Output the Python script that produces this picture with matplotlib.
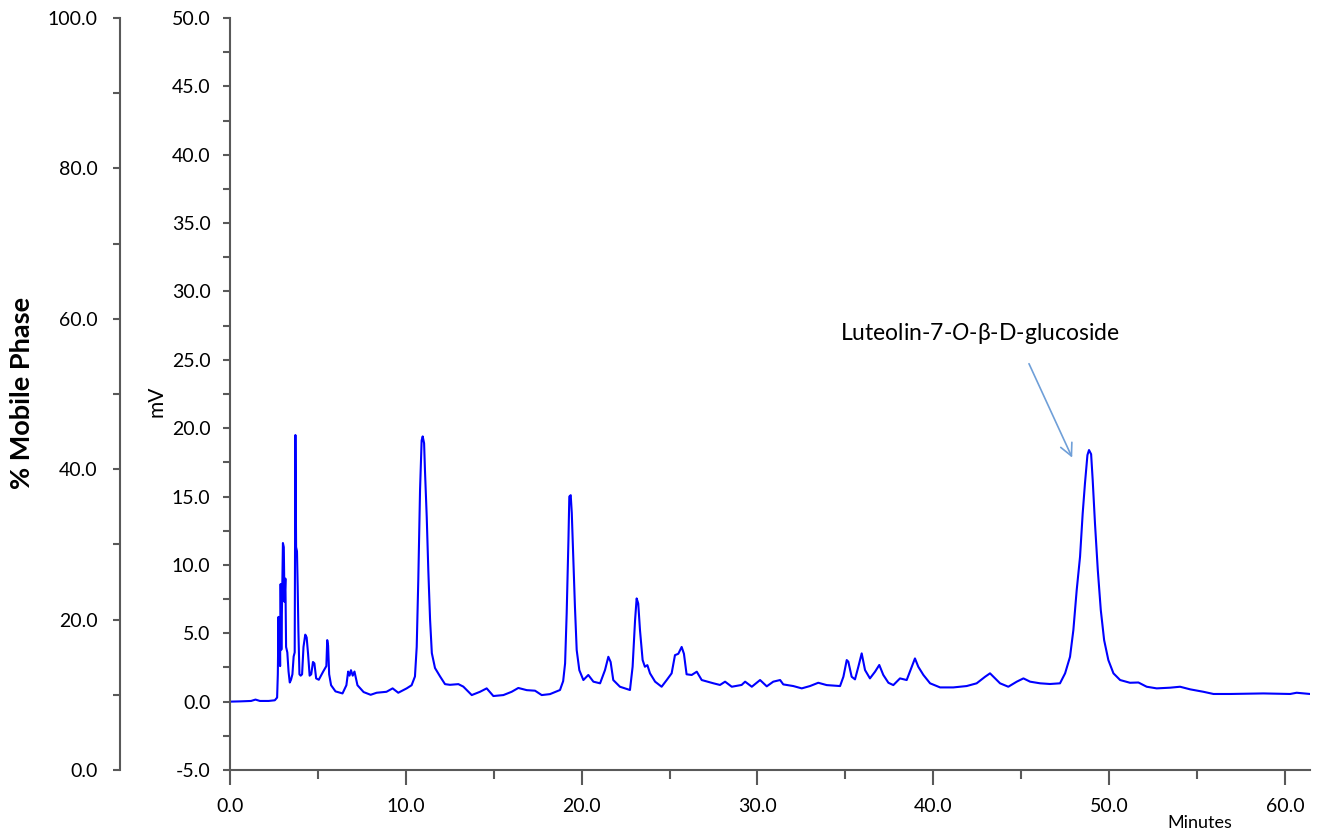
import matplotlib
matplotlib.use("Agg")
import matplotlib.pyplot as plt
from matplotlib import font_manager
from matplotlib.ticker import MultipleLocator, FormatStrFormatter

plt.rcParams['font.family'] = ['Lato', 'DejaVu Sans']

# pick an installed family that really has an italic face for the italic "O"
_italic_family = 'DejaVu Sans'
for fam in ('Lato', 'Open Sans', 'Noto Sans', 'Roboto', 'Inter'):
    if any(f.name == fam and f.style == 'italic' for f in font_manager.fontManager.ttflist):
        _italic_family = fam
        break
plt.rcParams['mathtext.fontset'] = 'custom'
plt.rcParams['mathtext.rm'] = 'Lato'
plt.rcParams['mathtext.it'] = _italic_family + ':italic'

# ---- chromatogram trace (minutes, mV) ----
time_min = [
    0.0, 0.6, 1.2, 1.45, 1.7, 2.2, 2.55, 2.68,
    2.72, 2.76, 2.79, 2.82, 2.85, 2.88, 2.92, 2.97, 3.01, 3.06, 3.10, 3.15,
    3.19, 3.26, 3.33, 3.40, 3.47, 3.55, 3.62, 3.68, 3.72, 3.76, 3.81, 3.85,
    3.89, 3.95, 4.02, 4.10, 4.18, 4.28, 4.36, 4.44, 4.53, 4.62, 4.72, 4.80,
    4.90, 5.05, 5.30, 5.48, 5.53, 5.58, 5.64, 5.75, 6.0, 6.4, 6.62, 6.72,
    6.8, 6.88, 6.98, 7.08, 7.25, 7.6, 8.0, 8.34, 8.9, 9.25, 9.57, 10.05,
    10.33, 10.52, 10.62, 10.71, 10.81, 10.9, 10.96, 11.04, 11.09, 11.19,
    11.28, 11.38, 11.48, 11.66, 11.95, 12.23, 12.51, 12.99, 13.27, 13.75,
    14.22, 14.6, 14.98, 15.55, 16.02, 16.4, 16.88, 17.35, 17.73, 18.2,
    18.77, 18.95, 19.06, 19.15, 19.25, 19.30, 19.38, 19.44, 19.53, 19.62,
    19.72, 19.87, 20.1, 20.38, 20.67, 21.05, 21.33, 21.52, 21.65, 21.8,
    22.18, 22.75, 22.9, 23.04, 23.13, 23.22, 23.32, 23.47, 23.6, 23.74,
    23.89, 24.18, 24.55, 24.84, 25.12, 25.31, 25.5, 25.69, 25.82, 25.97,
    26.26, 26.55, 26.83, 27.5, 27.87, 28.16, 28.54, 29.1, 29.3, 29.68,
    30.15, 30.53, 30.9, 31.29, 31.47, 32.04, 32.52, 32.99, 33.46, 33.94,
    34.7, 34.89, 35.08, 35.17, 35.36, 35.55, 35.74, 35.93, 36.12, 36.4,
    36.69, 36.93, 37.16, 37.45, 37.73, 38.11, 38.49, 38.78, 38.96, 39.15,
    39.44, 39.82, 40.39, 41.14, 41.9, 42.47, 42.95, 43.23, 43.52, 43.8,
    44.27, 44.75, 45.13, 45.51, 46.08, 46.64, 47.21, 47.5, 47.78, 47.97,
    48.16, 48.35, 48.5, 48.63, 48.77, 48.86, 48.98, 49.07, 49.2, 49.36,
    49.53, 49.72, 49.96, 50.25, 50.63, 51.19, 51.67, 52.14, 52.71, 53.47,
    54.04, 54.61, 55.37, 55.94, 56.88, 58.78, 60.3, 60.67, 61.43,
]
signal_mv = [
    0.0, 0.02, 0.05, 0.15, 0.05, 0.05, 0.1, 0.3,
    2.0, 6.2, 3.0, 5.5, 2.6, 8.6, 3.8, 8.0, 11.6, 11.3, 7.3, 9.0,
    4.0, 3.6, 2.2, 1.4, 1.6, 2.0, 3.3, 3.6, 19.5, 11.3, 11.0, 8.4,
    5.2, 2.0, 1.9, 2.0, 4.0, 4.9, 4.7, 3.5, 1.9, 2.0, 2.9, 2.8,
    1.7, 1.6, 2.2, 2.6, 4.5, 4.1, 2.0, 1.2, 0.75, 0.6, 1.2, 2.2,
    1.9, 2.3, 1.9, 2.2, 1.2, 0.7, 0.5, 0.65, 0.72, 0.97, 0.65, 0.97,
    1.2, 1.84, 4.0, 8.9, 15.5, 19.1, 19.4, 18.9, 16.9, 13.5,
    9.6, 6.0, 3.55, 2.46, 1.84, 1.28, 1.23, 1.28, 1.1, 0.48,
    0.72, 0.97, 0.41, 0.48, 0.72, 1.0, 0.84, 0.8, 0.48, 0.55,
    0.85, 1.5, 2.8, 6.45, 11.8, 15.0, 15.1, 13.8, 10.35, 6.94,
    3.77, 2.3, 1.58, 1.95, 1.46, 1.34, 2.31, 3.28, 2.9, 1.58,
    1.09, 0.85, 2.55, 5.96, 7.55, 7.18, 5.23, 3.04, 2.55, 2.67,
    2.07, 1.46, 1.09, 1.58, 2.07, 3.4, 3.5, 4.0, 3.5, 2.0,
    1.95, 2.19, 1.58, 1.34, 1.22, 1.46, 1.09, 1.22, 1.46, 1.09,
    1.58, 1.12, 1.46, 1.58, 1.26, 1.14, 0.97, 1.14, 1.38, 1.21,
    1.14, 1.82, 3.04, 2.92, 1.82, 1.63, 2.55, 3.53, 2.31, 1.7,
    2.19, 2.68, 1.95, 1.38, 1.21, 1.7, 1.58, 2.55, 3.16, 2.55,
    1.95, 1.34, 1.04, 1.04, 1.14, 1.34, 1.82, 2.07, 1.7, 1.34,
    1.09, 1.46, 1.7, 1.46, 1.34, 1.29, 1.34, 2.07, 3.28, 5.23,
    8.16, 10.6, 13.76, 15.96, 18.03, 18.4, 18.1, 16.2, 13.03, 9.62,
    6.7, 4.5, 3.04, 2.07, 1.58, 1.38, 1.4, 1.09, 0.97, 1.02,
    1.09, 0.9, 0.72, 0.56, 0.56, 0.6, 0.56, 0.65, 0.56,
]

# axis ranges / labels
x_range = (0.0, 61.43)
mv_range = (-5.0, 50.0)
phase_range = (0.0, 100.0)

annot_label = r"Luteolin-7-$O$-β-D-glucoside"
annot_text_xy = (42.66, 26.9)
annot_tail_xy = (45.38, 24.9)
annot_tip_xy = (47.97, 17.66)

axis_col = '#595959'

fig = plt.figure(figsize=(13.2, 8.33), dpi=100)
ax = fig.add_axes([230 / 1320, 63 / 833, 1080 / 1320, 752 / 833])
ax.plot(time_min, signal_mv, color='#0000ff', lw=1.5)

ax.set_xlim(*x_range)
ax.set_ylim(*mv_range)
for s in ('top', 'right'):
    ax.spines[s].set_visible(False)
for s in ('left', 'bottom'):
    ax.spines[s].set_color(axis_col)
    ax.spines[s].set_linewidth(1.5)

ax.xaxis.set_major_locator(MultipleLocator(10))
ax.xaxis.set_minor_locator(MultipleLocator(5))
ax.xaxis.set_major_formatter(FormatStrFormatter('%.1f'))
ax.yaxis.set_major_locator(MultipleLocator(5))
ax.yaxis.set_minor_locator(MultipleLocator(2.5))
ax.yaxis.set_major_formatter(FormatStrFormatter('%.1f'))
ax.tick_params(axis='x', which='major', length=11, width=1.5, color=axis_col,
               labelsize=14, pad=9, direction='out')
ax.tick_params(axis='x', which='minor', length=6.5, width=1.5, color=axis_col, direction='out')
ax.tick_params(axis='y', which='major', length=5, width=1.5, color=axis_col,
               labelsize=14, pad=9, direction='out')
ax.tick_params(axis='y', which='minor', length=5, width=1.5, color=axis_col, direction='out')

ax.text(-0.0676, 0.49, 'mV', transform=ax.transAxes, rotation=90,
        ha='center', va='center', fontsize=15)
fig.text(1200 / 1320, 1 - 823 / 833, 'Minutes', ha='center', va='center', fontsize=13)

# mobile phase axis (outer left)
ax2 = ax.twinx()
ax2.set_ylim(*phase_range)
ax2.yaxis.set_ticks_position('left')
ax2.yaxis.set_label_position('left')
for s in ('top', 'right', 'bottom'):
    ax2.spines[s].set_visible(False)
ax2.spines['left'].set_visible(True)
ax2.spines['left'].set_position(('axes', -110 / 1080))
ax2.spines['left'].set_color(axis_col)
ax2.spines['left'].set_linewidth(1.5)
ax2.yaxis.set_major_locator(MultipleLocator(20))
ax2.yaxis.set_minor_locator(MultipleLocator(10))
ax2.yaxis.set_major_formatter(FormatStrFormatter('%.1f'))
ax2.tick_params(axis='y', which='major', length=5, width=1.5, color=axis_col,
                labelsize=14, pad=11, direction='out', left=True, right=False,
                labelleft=True, labelright=False)
ax2.tick_params(axis='y', which='minor', length=5, width=1.5, color=axis_col,
                direction='out', left=True, right=False)
fig.text(22 / 1320, 1 - 393 / 833, '% Mobile Phase', rotation=90, ha='center',
         va='center', fontsize=19.5, fontweight='bold')

ax.annotate('', xy=annot_tip_xy, xytext=annot_tail_xy,
            arrowprops=dict(arrowstyle='->', color='#6f9fd8', lw=1.2,
                            mutation_scale=22))
ax.text(annot_text_xy[0], annot_text_xy[1], annot_label, ha='center',
        va='center', fontsize=16.5)

fig.savefig('out.png', dpi=100)
